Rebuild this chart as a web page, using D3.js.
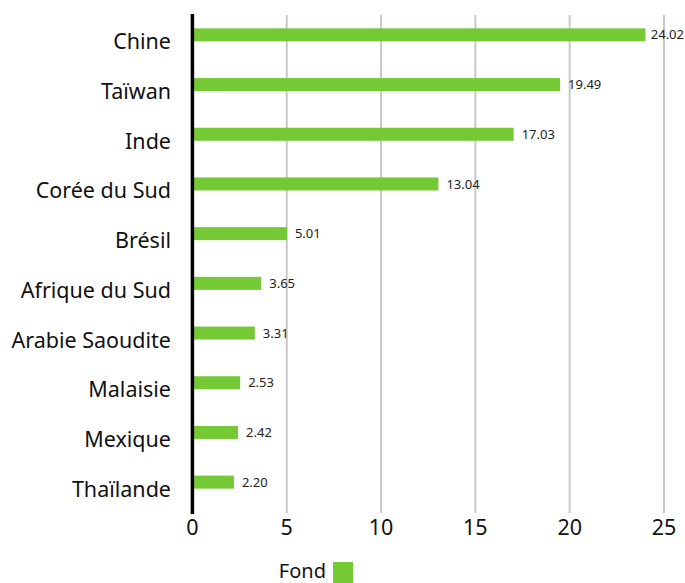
<!DOCTYPE html>
<html><head><meta charset="utf-8">
<script src="https://cdn.jsdelivr.net/npm/d3@7"></script>
<style>body{margin:0;background:#fff;} svg{display:block;font-family:"Noto Sans",sans-serif;}</style>
</head><body><svg id="c" width="685" height="583"></svg>
<script>
const categories = ["Chine","Taïwan","Inde","Corée du Sud","Brésil","Afrique du Sud","Arabie Saoudite","Malaisie","Mexique","Thaïlande"];
const values = [24.02,19.49,17.03,13.04,5.01,3.65,3.31,2.53,2.42,2.20];
const valueLabels = ["24.02","19.49","17.03","13.04","5.01","3.65","3.31","2.53","2.42","2.20"];
const ticks = [0,5,10,15,20,25];
const seriesName = "Fond";
const color = "#74c935";

const svg = d3.select("#c");
const W = 685;
const x = d3.scaleLinear().domain([0,25]).range([192.4, 664]);
const y = d3.scaleBand().domain(categories).range([17, 514]);

// gridlines
svg.append("g").selectAll("line").data(ticks.filter(t=>t>0)).join("line")
  .attr("x1",d=>x(d)).attr("x2",d=>x(d)).attr("y1",15).attr("y2",513)
  .attr("stroke","#c8c8c8").attr("stroke-width",2);

// bars
const bh = 13;
svg.append("g").selectAll("rect").data(values).join("rect")
  .attr("x", x(0)).attr("y",(d,i)=>y(categories[i])+y.bandwidth()/2-7-bh/2)
  .attr("width",d=>x(d)-x(0)).attr("height",bh).attr("fill",color);

// value labels
svg.append("g").selectAll("text").data(values).join("text")
  .attr("y",(d,i)=>y(categories[i])+y.bandwidth()/2-7)
  .attr("dy","0.35em").attr("font-size",13).attr("fill","#222")
  .text((d,i)=>valueLabels[i])
  .each(function(d){
    const w = this.getComputedTextLength();
    d3.select(this).attr("x", Math.min(x(d)+8, W-1-w));
  });

// axis line
svg.append("line").attr("x1",x(0)).attr("x2",x(0)).attr("y1",14).attr("y2",514)
  .attr("stroke","#000").attr("stroke-width",3.5);

// category labels
svg.append("g").selectAll("text").data(categories).join("text")
  .attr("x",171).attr("y",d=>y(d)+y.bandwidth()/2)
  .attr("dy","0.35em").attr("text-anchor","end").attr("font-size",21.5).attr("fill","#111")
  .text(d=>d);

// x tick labels
svg.append("g").selectAll("text").data(ticks).join("text")
  .attr("x",d=>x(d)).attr("y",527).attr("dy","0.35em").attr("text-anchor","middle")
  .attr("font-size",21.5).attr("fill","#111").text(d=>d);

// legend
svg.append("text").attr("x",326).attr("y",578).attr("text-anchor","end")
  .attr("font-size",20).attr("fill","#111").text(seriesName);
svg.append("rect").attr("x",333).attr("y",562).attr("width",20).attr("height",21).attr("fill",color);
</script></body></html>
